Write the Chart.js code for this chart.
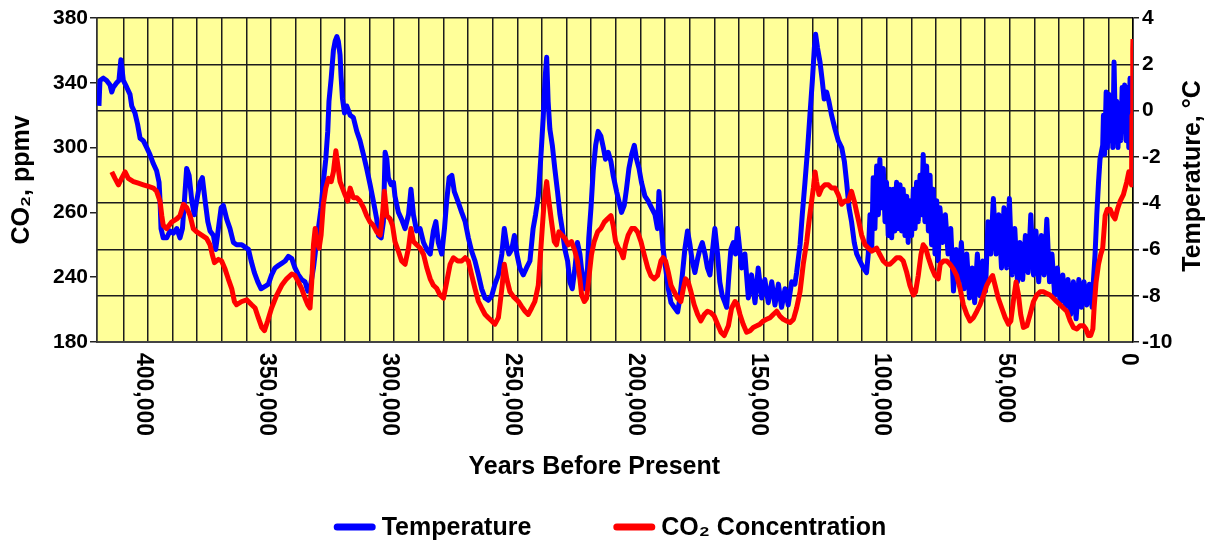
<!DOCTYPE html>
<html>
<head>
<meta charset="utf-8">
<title>Vostok ice core - temperature and CO2</title>
<script src="https://cdn.jsdelivr.net/npm/chart.js@4.4.1/dist/chart.umd.min.js"></script>
<style>
  html, body { margin: 0; padding: 0; background: #fff; }
  #wrap { width: 1211px; height: 545px; }
</style>
</head>
<body>
<div id="wrap"><canvas id="myChart" width="1211" height="545"></canvas></div>
<script>
// years before present, in thousands
const tempYears = [
  419.9, 419.5, 418.1, 416.8, 415.4, 414.7, 414.1, 412.7, 411.8, 411.0,
  410.0, 408.6, 407.3, 406.6, 405.3, 404.2, 403.2, 401.9, 400.5, 399.2,
  397.8, 396.5, 395.5, 395.1, 394.7, 393.8, 392.4, 391.0, 389.7, 388.3,
  387.0, 386.0, 385.2, 384.3, 383.3, 382.2, 381.2, 380.2, 378.9, 377.9,
  376.8, 375.7, 374.8, 373.4, 372.5, 371.4, 370.3, 369.4, 368.0, 366.7,
  365.3, 364.0, 361.9, 360.6, 359.2, 358.1, 356.8, 355.4, 354.1, 352.5,
  351.1, 349.8, 348.4, 347.1, 345.7, 344.3, 343.0, 341.6, 340.3, 338.9,
  337.6, 336.2, 335.1, 334.2, 332.8, 331.9, 330.8, 329.7, 328.8, 327.8,
  327.0, 326.5, 325.6, 324.7, 324.0, 323.3, 322.7, 322.0, 321.6, 321.0,
  320.2, 319.3, 317.9, 316.6, 315.2, 313.9, 312.5, 311.2, 309.8, 308.5,
  307.1, 306.4, 305.3, 304.4, 303.7, 303.0, 302.4, 301.3, 300.3, 299.7,
  298.3, 297.0, 295.6, 294.2, 293.2, 292.2, 290.9, 289.5, 288.1, 286.8,
  285.4, 284.1, 283.1, 282.1, 280.7, 279.6, 278.7, 277.7, 276.6, 275.6,
  274.2, 272.6, 271.2, 269.9, 268.5, 267.2, 265.8, 264.5, 263.1, 261.8,
  260.4, 259.1, 257.7, 256.3, 255.3, 254.3, 253.4, 252.3, 251.2, 250.2,
  249.0, 247.6, 246.3, 244.9, 243.6, 242.6, 241.5, 240.4, 239.5, 238.8,
  238.1, 237.5, 236.8, 235.8, 234.8, 233.7, 232.7, 231.8, 230.7, 229.6,
  228.7, 227.7, 226.6, 225.6, 224.6, 223.7, 222.6, 221.5, 221.0, 220.1,
  219.2, 218.2, 217.2, 216.1, 215.1, 214.2, 213.1, 212.0, 211.1, 209.7,
  208.8, 207.7, 206.6, 205.7, 204.7, 203.6, 202.5, 201.6, 200.6, 199.6,
  198.2, 196.9, 195.5, 194.1, 193.1, 192.5, 191.7, 190.8, 189.8, 188.7,
  187.6, 186.3, 184.9, 184.0, 183.0, 182.0, 180.9, 179.9, 179.0, 177.9,
  176.8, 175.9, 174.9, 173.8, 172.8, 171.8, 170.9, 169.8, 168.7, 167.8,
  166.8, 165.7, 165.0, 164.1, 163.3, 162.3, 161.4, 160.6, 158.9, 157.6,
  156.2, 154.9, 153.5, 152.2, 150.8, 149.5, 148.1, 146.7, 145.4, 144.0,
  142.7, 141.3, 140.0, 138.6, 137.3, 136.6, 135.2, 134.3, 133.2, 132.1,
  131.2, 130.2, 129.4, 128.9, 128.1, 127.1, 126.2, 125.4, 124.4, 123.5,
  122.4, 121.0, 119.7, 118.3, 117.2, 116.3, 115.3, 114.3, 113.2, 112.2,
  110.9, 109.5, 108.2, 107.5, 106.8, 106.1, 105.5, 104.8, 104.1, 103.4,
  102.8, 102.1, 101.4, 100.7, 100.1, 99.4, 98.7, 98.0, 97.3, 96.7,
  96.0, 95.3, 94.6, 94.0, 93.3, 92.6, 91.9, 91.3, 90.6, 89.9,
  89.2, 88.5, 87.9, 87.2, 86.5, 85.8, 85.2, 84.5, 83.8, 83.1,
  82.4, 81.8, 81.1, 80.4, 79.7, 79.1, 78.4, 77.3, 76.2, 75.1,
  74.0, 72.9, 71.8, 70.8, 69.7, 68.6, 67.5, 66.4, 65.3, 64.3,
  63.2, 62.1, 61.0, 59.9, 58.9, 57.8, 56.7, 55.6, 54.5, 53.4,
  52.4, 51.3, 50.2, 49.1, 48.0, 46.9, 45.9, 44.8, 43.7, 42.6,
  41.5, 40.4, 39.4, 38.3, 37.2, 36.1, 35.0, 33.9, 32.9, 31.8,
  30.7, 29.6, 28.5, 27.4, 26.4, 25.3, 24.2, 23.1, 22.0, 20.9,
  19.9, 18.8, 17.7, 16.6, 16.1, 15.4, 14.7, 14.0, 13.4, 12.3,
  12.0, 11.5, 10.9, 10.4, 9.8, 9.3, 8.8, 8.2, 7.7, 7.1,
  6.6, 6.1, 5.5, 5.0, 4.4, 3.9, 3.4, 2.8, 2.3, 1.7,
  1.2, 0.6, 0.2
];

// temperature difference, degrees C
const tempValues = [
  0.2, 1.3, 1.4, 1.3, 1.1, 0.8, 1.0, 1.2, 1.3, 2.2,
  1.3, 1.0, 0.7, 0.2, -0.1, -0.6, -1.2, -1.3, -1.6, -1.9,
  -2.3, -2.6, -3.1, -3.9, -5.1, -5.5, -5.5, -5.2, -5.3, -5.1,
  -5.5, -5.1, -3.9, -2.5, -2.8, -3.9, -4.5, -3.9, -3.1, -2.9,
  -3.9, -4.8, -5.2, -5.4, -6.0, -5.1, -4.2, -4.1, -4.7, -5.1,
  -5.7, -5.8, -5.8, -5.9, -6.0, -6.5, -7.0, -7.4, -7.7, -7.6,
  -7.5, -7.1, -6.8, -6.7, -6.6, -6.5, -6.3, -6.4, -6.8, -7.1,
  -7.3, -7.4, -7.8, -7.7, -6.8, -6.0, -5.1, -4.2, -3.1, -2.1,
  -0.9, 0.4, 1.4, 2.6, 3.0, 3.2, 3.0, 2.4, 1.5, 0.5,
  -0.1, 0.2, -0.2, -0.3, -0.9, -1.3, -1.9, -2.5, -3.2, -3.9,
  -4.7, -5.4, -5.5, -4.8, -1.8, -2.1, -2.9, -3.2, -3.1, -3.7,
  -4.4, -4.7, -5.1, -4.5, -3.4, -4.5, -5.2, -5.1, -5.7, -6.0,
  -6.2, -5.2, -4.8, -5.7, -6.2, -5.1, -3.9, -2.9, -2.8, -3.5,
  -3.9, -4.4, -4.8, -5.5, -6.1, -6.5, -7.1, -7.7, -8.1, -8.2,
  -8.0, -7.5, -7.1, -6.2, -5.1, -5.8, -6.2, -6.0, -5.4, -6.2,
  -6.8, -7.1, -6.8, -6.5, -5.1, -4.5, -3.7, -1.9, -0.3, 1.3,
  2.3, 0.4, -0.8, -1.5, -2.5, -3.5, -4.5, -5.1, -6.0, -6.5,
  -7.4, -7.7, -6.8, -5.7, -6.2, -7.1, -7.7, -6.8, -5.5, -4.2,
  -2.6, -1.5, -0.9, -1.1, -1.6, -2.1, -1.8, -2.2, -2.8, -3.5,
  -3.9, -4.4, -4.1, -3.4, -2.5, -1.9, -1.5, -2.1, -2.5, -3.1,
  -3.7, -3.9, -4.2, -4.5, -5.1, -3.5, -4.8, -6.0, -6.8, -7.7,
  -8.3, -8.5, -8.7, -8.1, -7.1, -6.0, -5.2, -5.8, -6.5, -7.0,
  -6.4, -6.0, -5.7, -6.2, -6.8, -7.1, -6.2, -5.1, -6.2, -7.4,
  -8.0, -8.3, -8.5, -7.1, -6.0, -5.7, -6.2, -5.1, -6.8, -6.2,
  -8.1, -7.1, -8.3, -6.8, -8.1, -7.3, -8.3, -7.4, -8.4, -7.5,
  -8.5, -7.7, -8.4, -7.4, -7.5, -7.0, -5.8, -4.5, -3.1, -1.6,
  -0.2, 1.3, 2.7, 3.3, 2.7, 2.1, 1.3, 0.5, 0.8, 0.4,
  -0.2, -0.8, -1.3, -1.6, -2.2, -3.1, -4.2, -4.8, -5.7, -6.2,
  -6.5, -6.8, -7.0, -6.2, -4.5, -6.0, -2.9, -5.1, -2.4, -4.5,
  -2.1, -4.2, -2.5, -4.8, -3.1, -5.4, -3.4, -5.5, -3.4, -5.2,
  -3.1, -5.1, -3.2, -5.2, -3.4, -5.4, -3.7, -5.7, -3.9, -5.4,
  -3.4, -5.1, -3.1, -4.8, -2.8, -4.5, -1.9, -4.8, -2.4, -5.2,
  -2.8, -5.8, -3.4, -6.2, -3.9, -6.5, -4.2, -5.7, -4.5, -6.2,
  -5.1, -7.8, -6.0, -7.4, -5.7, -7.7, -6.2, -8.1, -6.8, -8.3,
  -6.2, -8.0, -6.5, -7.8, -4.8, -6.2, -3.8, -6.2, -4.5, -6.8,
  -4.2, -6.8, -3.8, -7.1, -5.1, -7.4, -5.7, -7.3, -5.4, -7.0,
  -4.5, -7.1, -5.2, -7.4, -5.4, -7.1, -4.7, -7.4, -6.2, -8.0,
  -6.8, -8.3, -7.1, -8.5, -7.3, -8.8, -7.4, -9.0, -7.3, -8.5,
  -7.4, -8.4, -7.5, -8.5, -7.4, -6.2, -4.5, -3.1, -2.1, -1.5,
  -0.2, -1.9, 0.8, -1.6, 0.7, -1.3, 0.5, -1.6, 2.1, -1.1,
  0.4, -1.6, 0.2, -1.3, 1.0, -0.9, 1.1, -1.3, 1.0, -1.6,
  1.4, -1.9, -0.2
];

// years before present, in thousands
const co2Years = [
  414.7, 413.4, 412.0, 410.7, 409.3, 408.0, 405.9, 403.9, 401.9, 399.8,
  397.8, 396.5, 395.1, 394.4, 393.8, 392.4, 390.4, 388.3, 387.0, 385.6,
  384.3, 382.9, 381.6, 380.2, 378.2, 376.2, 374.8, 373.9, 373.0, 371.4,
  370.1, 368.7, 367.4, 366.0, 364.9, 364.0, 361.9, 359.9, 357.9, 356.5,
  355.2, 353.8, 352.7, 351.4, 349.8, 347.7, 345.7, 343.7, 341.6, 340.3,
  338.9, 337.6, 336.2, 335.1, 334.2, 333.5, 332.8, 332.1, 331.5, 330.5,
  329.7, 328.8, 327.8, 326.7, 325.6, 324.7, 323.7, 322.9, 322.0, 321.0,
  320.0, 318.9, 317.9, 316.6, 315.2, 313.9, 312.5, 311.2, 309.8, 308.5,
  307.1, 305.7, 304.8, 304.0, 303.0, 301.7, 300.7, 299.7, 298.3, 297.0,
  295.6, 294.2, 293.2, 292.2, 290.9, 289.5, 288.1, 286.8, 285.4, 284.1,
  282.7, 281.4, 280.0, 278.7, 277.3, 276.0, 274.2, 272.6, 271.2, 269.9,
  268.5, 267.2, 265.8, 264.5, 263.1, 261.8, 260.4, 259.1, 257.7, 256.3,
  255.3, 254.3, 253.0, 251.6, 249.6, 248.3, 246.9, 245.6, 244.2, 242.9,
  241.5, 240.8, 239.9, 239.1, 238.1, 237.2, 236.1, 235.0, 234.1, 233.1,
  232.0, 230.7, 229.3, 228.0, 226.6, 225.6, 224.6, 223.9, 222.8, 221.9,
  221.0, 219.9, 218.8, 217.4, 216.1, 214.7, 213.4, 212.0, 211.1, 210.1,
  209.0, 208.0, 207.0, 206.1, 205.0, 203.6, 202.3, 201.2, 199.8, 198.5,
  197.1, 195.8, 194.4, 193.1, 191.7, 190.8, 189.8, 188.7, 187.6, 186.3,
  184.9, 183.6, 182.6, 181.7, 180.6, 179.5, 178.2, 176.8, 175.5, 174.1,
  172.8, 171.4, 170.1, 168.7, 167.3, 166.0, 164.3, 163.0, 161.6, 160.6,
  159.6, 158.3, 156.9, 155.5, 154.2, 152.8, 151.5, 150.1, 148.8, 147.4,
  146.1, 144.7, 143.4, 142.0, 140.7, 139.3, 137.9, 136.6, 135.2, 133.9,
  132.5, 131.6, 130.5, 129.8, 129.1, 128.5, 127.5, 126.4, 125.1, 123.7,
  122.4, 121.0, 119.7, 118.3, 117.0, 115.6, 114.3, 113.2, 112.2, 111.3,
  110.2, 108.8, 107.5, 106.1, 104.1, 102.8, 101.4, 100.0, 98.7, 97.3,
  96.0, 94.6, 93.3, 91.9, 90.6, 89.2, 88.3, 87.2, 86.1, 85.2,
  84.2, 83.1, 81.8, 80.4, 79.1, 78.3, 77.0, 75.6, 74.3, 72.9,
  71.6, 70.2, 68.9, 67.5, 66.2, 64.8, 63.4, 62.1, 60.7, 59.4,
  58.0, 57.0, 56.0, 54.7, 53.3, 51.9, 50.6, 49.6, 48.6, 47.5,
  46.5, 45.6, 44.5, 43.1, 41.8, 40.4, 39.1, 37.7, 36.4, 35.0,
  33.7, 32.3, 31.0, 29.6, 28.3, 26.9, 25.5, 24.2, 22.8, 21.5,
  20.1, 19.1, 18.1, 17.2, 16.3, 15.8, 15.0, 14.0, 13.1, 12.3,
  11.3, 10.4, 9.3, 8.2, 7.3, 6.3, 5.2, 3.9, 2.5, 1.7,
  1.2, 0.6, 0.4, 0.1, 0.0
];

// CO2 concentration, ppmv
const co2Values = [
  285, 281, 277, 281, 285, 281, 279, 278, 277, 276,
  275, 273, 267, 258, 252, 250, 254, 256, 258, 265,
  263, 258, 250, 248, 246, 244, 240, 234, 229, 231,
  230, 225, 219, 213, 205, 203, 205, 206, 203, 201,
  195, 189, 187, 193, 201, 209, 215, 219, 222, 221,
  217, 213, 207, 203, 201, 217, 240, 250, 242, 238,
  246, 265, 275, 281, 279, 285, 298, 289, 279, 275,
  271, 267, 275, 269, 269, 267, 263, 258, 254, 252,
  248, 246, 258, 273, 258, 256, 252, 242, 236, 230,
  228, 238, 250, 242, 240, 238, 234, 226, 219, 215,
  213, 209, 207, 217, 228, 232, 230, 230, 232, 230,
  221, 213, 205, 201, 197, 195, 193, 191, 195, 213,
  228, 219, 211, 208, 205, 202, 199, 197, 201, 205,
  215, 230, 250, 267, 279, 267, 254, 242, 240, 248,
  246, 244, 240, 242, 236, 230, 219, 209, 205, 207,
  219, 234, 242, 248, 250, 254, 256, 258, 252, 242,
  238, 236, 232, 240, 246, 250, 250, 248, 242, 234,
  226, 221, 219, 221, 230, 232, 230, 223, 215, 211,
  207, 205, 213, 219, 217, 211, 203, 197, 193, 197,
  199, 198, 196, 191, 186, 184, 190, 201, 205, 203,
  197, 191, 186, 187, 189, 190, 191, 193, 194, 195,
  197, 199, 196, 194, 193, 192, 194, 201, 211, 228,
  242, 254, 267, 275, 285, 279, 271, 275, 277, 277,
  275, 275, 271, 265, 267, 267, 273, 267, 260, 254,
  246, 240, 238, 236, 238, 234, 230, 228, 228, 230,
  232, 232, 230, 223, 215, 209, 211, 221, 234, 240,
  238, 232, 226, 221, 219, 228, 230, 230, 228, 225,
  221, 213, 203, 197, 193, 195, 199, 203, 209, 215,
  219, 221, 215, 207, 201, 195, 191, 193, 205, 217,
  209, 197, 189, 190, 197, 205, 209, 211, 211, 210,
  209, 207, 205, 203, 201, 199, 193, 189, 188, 190,
  190, 188, 184, 184, 188, 201, 217, 228, 234, 238,
  258, 262, 262, 258, 256, 262, 267, 271, 279, 285,
  281, 277, 320, 361, 367
];

// axis ticks
const xLabelValues = [400, 350, 300, 250, 200, 150, 100, 50, 0];
const xLabelText = ['400,000', '350,000', '300,000', '250,000', '200,000', '150,000', '100,000', '50,000', '0'];
const co2TickValues = [180, 220, 260, 300, 340, 380];
const co2TickText = ['180', '240', '260', '300', '340', '380'];

const fontFamily = '"Liberation Sans", Arial, Helvetica, sans-serif';
Chart.defaults.font.family = fontFamily;
Chart.defaults.color = '#000';

// yellow plot area
const plotBackground = {
  id: 'plotBackground',
  beforeDraw: function (chart) {
    const a = chart.chartArea;
    const ctx = chart.ctx;
    ctx.save();
    ctx.fillStyle = '#FFFF99';
    ctx.fillRect(a.left, a.top, a.width, a.height);
    ctx.restore();
  },
};

// rotated x labels, axis titles and legend
const chartText = {
  id: 'chartText',
  afterDraw: function (chart) {
    const ctx = chart.ctx;
    const a = chart.chartArea;
    const xScale = chart.scales.x;
    ctx.save();
    ctx.fillStyle = '#000';

    // x tick labels, turned to read downwards
    ctx.font = 'bold 23px ' + fontFamily;
    ctx.textAlign = 'left';
    ctx.textBaseline = 'middle';
    xLabelValues.forEach(function (v, i) {
      const px = xScale.getPixelForValue(v);
      ctx.save();
      ctx.translate(px - 5, a.bottom + 11);
      ctx.rotate(Math.PI / 2);
      ctx.fillText(xLabelText[i], 0, 0);
      ctx.restore();
    });

    // x title
    ctx.font = 'bold 25px ' + fontFamily;
    ctx.textAlign = 'center';
    ctx.fillText('Years Before Present', a.left + a.width * 0.48, 467);

    // right title, reading upwards
    ctx.save();
    ctx.translate(1193, (a.top + a.bottom) / 2 - 4);
    ctx.rotate(-Math.PI / 2);
    ctx.fillText('Temperature, °C', 0, 0);
    ctx.restore();

    // legend
    const lineW = 42, textGap = 6, itemGap = 82, legendY = 527;
    const items = chart.data.datasets.map(function (ds) {
      return { text: ds.label, color: ds.borderColor, w: ctx.measureText(ds.label).width };
    });
    let total = 0;
    items.forEach(function (it, i) {
      total += lineW + textGap + it.w + (i > 0 ? itemGap : 0);
    });
    let x = 610 - total / 2;
    ctx.textAlign = 'left';
    items.forEach(function (it) {
      ctx.fillStyle = it.color;
      ctx.beginPath();
      ctx.roundRect(x, legendY - 3.5, lineW, 7, 3.5);
      ctx.fill();
      x += lineW + textGap;
      ctx.fillStyle = '#000';
      ctx.fillText(it.text, x, legendY + 1);
      x += it.w + itemGap;
    });
    ctx.restore();
  },
};

const ctx = document.getElementById('myChart').getContext('2d');

const data = {
  datasets: [
    {
      label: 'Temperature',
      data: tempYears.map(function (y, i) { return { x: y, y: tempValues[i] }; }),
      yAxisID: 'yTemp',
      borderColor: '#0000FF',
      backgroundColor: '#0000FF',
      borderWidth: 5,
      borderJoinStyle: 'round',
      pointRadius: 0,
      tension: 0,
      order: 1,
    },
    {
      label: 'CO₂ Concentration',
      data: co2Years.map(function (y, i) { return { x: y, y: co2Values[i] }; }),
      yAxisID: 'yCO2',
      borderColor: '#FF0000',
      backgroundColor: '#FF0000',
      borderWidth: 5,
      borderJoinStyle: 'round',
      pointRadius: 0,
      tension: 0,
      order: 0,
    },
  ],
};

const gridColor = '#1c1c1c';

const config = {
  type: 'line',
  data: data,
  options: {
    responsive: false,
    animation: false,
    devicePixelRatio: 1,
    layout: { padding: { top: 18, left: 0, right: 0, bottom: 0 } },
    plugins: {
      legend: { display: false },
      tooltip: { enabled: false },
    },
    scales: {
      x: {
        type: 'linear',
        reverse: true,
        min: 0,
        max: 420.7,
        ticks: { stepSize: 10, display: false },
        grid: { color: gridColor, lineWidth: 1.5, drawTicks: false },
        border: { color: '#444', width: 2 },
        afterFit: function (scale) { scale.height = 203; },
      },
      yCO2: {
        position: 'left',
        min: 180,
        max: 380,
        ticks: {
          stepSize: 40,
          padding: 2,
          font: { size: 21, weight: 'bold' },
          callback: function (v) { return co2TickText[co2TickValues.indexOf(v)]; },
        },
        grid: { drawOnChartArea: false, drawTicks: true, tickLength: 7, color: '#222', lineWidth: 1.5 },
        border: { color: '#333', width: 1.5 },
        title: {
          display: true,
          text: 'CO₂, ppmv',
          font: { size: 25, weight: 'bold' },
          padding: { top: 7, bottom: 0 },
        },
        afterFit: function (scale) { scale.width = 97; },
      },
      yTemp: {
        position: 'right',
        min: -10,
        max: 4,
        ticks: {
          stepSize: 2,
          padding: 3,
          font: { size: 21, weight: 'bold' },
        },
        grid: { color: gridColor, lineWidth: 1.5, tickLength: 6 },
        border: { color: '#000', width: 1.5 },
        afterFit: function (scale) { scale.width = 78; },
      },
    },
  },
  plugins: [plotBackground, chartText],
};

const myChart = new Chart(ctx, config);
</script>
</body>
</html>
